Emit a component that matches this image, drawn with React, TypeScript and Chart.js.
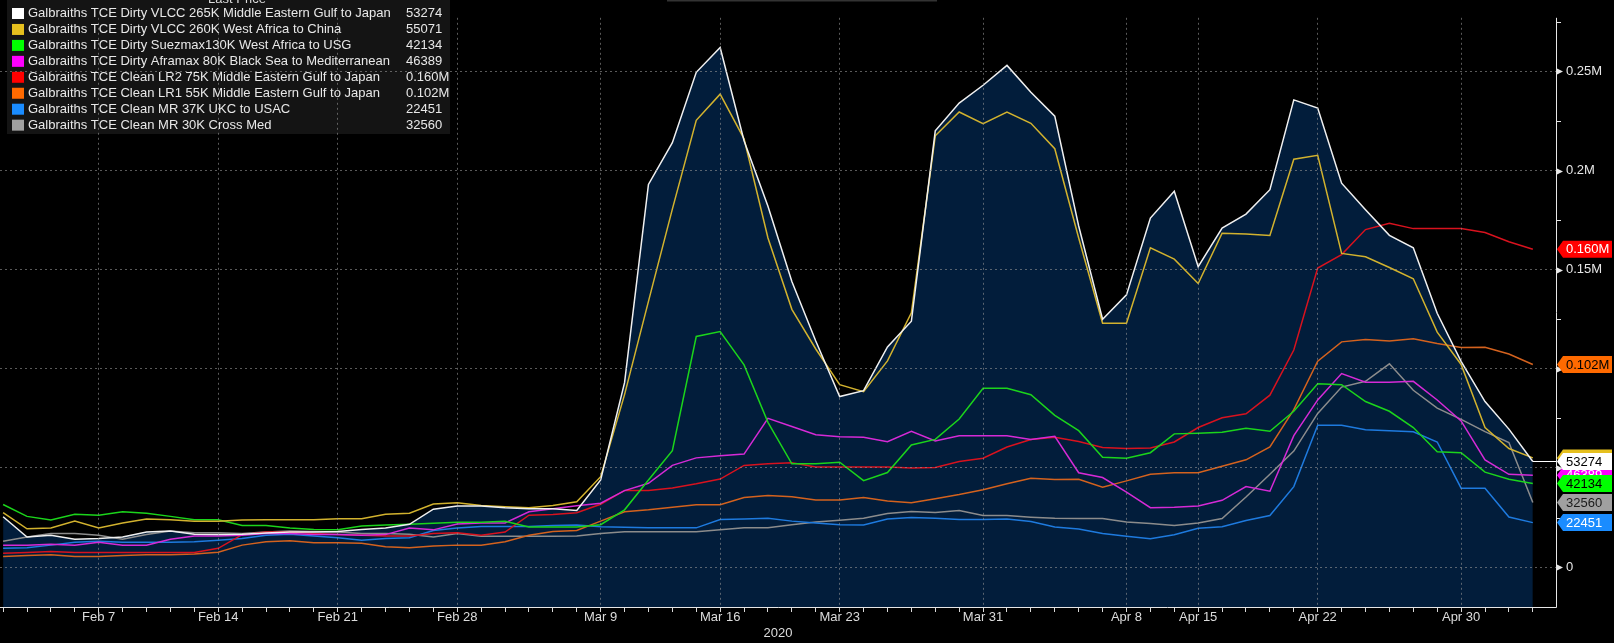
import { useEffect, useRef } from "react"
import { Chart, registerables } from "chart.js"

Chart.register(...registerables)

const FONT = "'Liberation Sans', Arial, sans-serif"
Chart.defaults.font.family = FONT

// trading days (UK calendar, Good Friday / Easter Monday skipped)
const dates = [
  "Feb 3", "Feb 4", "Feb 5", "Feb 6", "Feb 7", "Feb 10", "Feb 11", "Feb 12", "Feb 13", "Feb 14",
  "Feb 17", "Feb 18", "Feb 19", "Feb 20", "Feb 21", "Feb 24", "Feb 25", "Feb 26", "Feb 27", "Feb 28",
  "Mar 2", "Mar 3", "Mar 4", "Mar 5", "Mar 6", "Mar 9", "Mar 10", "Mar 11", "Mar 12", "Mar 13",
  "Mar 16", "Mar 17", "Mar 18", "Mar 19", "Mar 20", "Mar 23", "Mar 24", "Mar 25", "Mar 26", "Mar 27",
  "Mar 30", "Mar 31", "Apr 1", "Apr 2", "Apr 3", "Apr 6", "Apr 7", "Apr 8", "Apr 9", "Apr 14",
  "Apr 15", "Apr 16", "Apr 17", "Apr 20", "Apr 21", "Apr 22", "Apr 23", "Apr 24", "Apr 27", "Apr 28",
  "Apr 29", "Apr 30", "May 1", "May 4", "May 5",
]

const tickLabels = [
  "Feb 7", "Feb 14", "Feb 21", "Feb 28", "Mar 9", "Mar 16",
  "Mar 23", "Mar 31", "Apr 8", "Apr 15", "Apr 22", "Apr 30",
]

const yTicks = [0, 25000, 50000, 75000, 100000, 125000, 150000, 175000, 200000, 225000, 250000, 275000]

const seriesNames = [
  "Galbraiths TCE Dirty VLCC 265K Middle Eastern Gulf to Japan",
  "Galbraiths TCE Dirty VLCC 260K West Africa to China",
  "Galbraiths TCE Dirty Suezmax130K West Africa to USG",
  "Galbraiths TCE Dirty Aframax 80K Black Sea to Mediterranean",
  "Galbraiths TCE Clean LR2 75K Middle Eastern Gulf to Japan",
  "Galbraiths TCE Clean LR1 55K Middle Eastern Gulf to Japan",
  "Galbraiths TCE Clean MR 37K UKC to USAC",
  "Galbraiths TCE Clean MR 30K Cross Med",
]

const lastPrices = ["53274", "55071", "42134", "46389", "0.160M", "0.102M", "22451", "32560"]

const vlccMegJapan = [
  25400, 15200, 16100, 14100, 14400, 15200, 17700, 18200, 16600, 16400,
  16600, 17200, 17700, 17700, 18000, 19000, 19700, 21600, 29200, 30800,
  30800, 30000, 29500, 29500, 28600, 44000, 93000, 193000, 214000, 249500,
  262000, 215000, 182000, 144000, 114000, 86000, 89000, 111000, 124000, 220000,
  234000, 243000, 253000, 239500, 227400, 172000, 125000, 137300, 176000, 189500,
  151500, 171000, 178000, 190300, 235600, 231500, 193600, 180200, 167300, 161000,
  128000, 103800, 83500, 69600, 53274,
]

const vlccWafChina = [
  27500, 19300, 19700, 23300, 19800, 22300, 24300, 23900, 23100, 23100,
  23800, 23900, 23900, 23900, 24400, 24400, 26700, 27200, 31800, 32500,
  31100, 30500, 30000, 31100, 33000, 45600, 87000, 134000, 180500, 225300,
  238500, 216000, 166000, 130000, 110000, 92000, 88500, 104000, 128200, 217500,
  229500, 223600, 229500, 223800, 211000, 166000, 123000, 123000, 161000, 155300,
  143000, 168400, 168000, 167200, 205700, 207700, 158200, 156500, 151100, 145400,
  118500, 102200, 70400, 59800, 55071,
]

const suezmaxWafUsg = [
  31600, 25600, 23800, 26700, 26200, 27900, 27200, 25600, 23900, 23900,
  21000, 21000, 19700, 19000, 18800, 20700, 21300, 21600, 22100, 22600,
  22600, 23100, 20200, 20200, 20300, 21400, 28900, 43900, 58700, 116300,
  118800, 102000, 73000, 52100, 52100, 52900, 43600, 47700, 61600, 64400,
  74700, 90200, 90200, 86900, 76500, 68800, 55400, 54900, 57700, 67200,
  67500, 68000, 70000, 68500, 78600, 92500, 92000, 83500, 78600, 70400,
  58200, 57700, 47900, 44300, 42134,
]

const aframaxBsMed = [
  11100, 11100, 11500, 11100, 12500, 11100, 11100, 14100, 15700, 15700,
  16100, 16900, 16900, 16400, 16400, 16100, 16400, 19700, 18800, 21800,
  22300, 22300, 27900, 29500, 31000, 32200, 38600, 42300, 51300, 55100,
  56200, 57000, 75000, 70900, 66800, 65700, 65500, 63200, 68500, 63600,
  66300, 66300, 66300, 64400, 66000, 47600, 45200, 37800, 30000, 30200,
  30800, 33700, 40600, 38300, 66300, 84300, 97600, 93200, 93200, 93700,
  84300, 73700, 54100, 46800, 46389,
]

const lr2MegJapan = [
  7000, 7400, 7900, 7400, 7400, 7400, 7400, 7400, 7400, 9500,
  16400, 17700, 17700, 16900, 16400, 16100, 15700, 15700, 16900, 17400,
  16100, 17700, 26200, 26600, 27400, 31700, 38700, 38700, 39900, 42000,
  44400, 51300, 52100, 52600, 50500, 50500, 50500, 50500, 50000, 50200,
  53300, 54900, 60600, 64400, 65500, 63400, 60300, 59800, 60100, 63100,
  70400, 75300, 77300, 86700, 109500, 150800, 157600, 170200, 173400, 170700,
  170700, 170700, 168700, 164100, 160300,
]

const lr1MegJapan = [
  5400, 5900, 6200, 5400, 5400, 5900, 6200, 6200, 6600, 7500,
  11100, 12800, 13300, 12300, 12300, 12000, 10300, 9800, 10700, 11100,
  11100, 12800, 16100, 18000, 18500, 23200, 27900, 28900, 30200, 31400,
  31500, 35100, 36100, 35500, 33800, 33800, 35100, 33300, 32500, 34500,
  36600, 39000, 42000, 44800, 44200, 44300, 40300, 43500, 46800, 47600,
  47600, 50900, 54100, 60600, 79400, 103800, 113600, 114800, 114000, 115200,
  112800, 110700, 110900, 107500, 102200,
]

const mrUkcUsac = [
  9500, 9800, 11100, 12500, 13100, 12500, 12500, 12500, 12800, 13600,
  14400, 16100, 16600, 15700, 14800, 13600, 14400, 14800, 18500, 19700,
  20500, 20500, 20500, 21000, 21300, 20400, 20100, 19900, 19900, 19800,
  24000, 24300, 24700, 23200, 22200, 21400, 21200, 24300, 25000, 24700,
  24000, 24000, 24300, 23000, 20200, 19200, 17000, 15600, 14300, 16300,
  19600, 20400, 23500, 26000, 40600, 71600, 71600, 69300, 68800, 68300,
  63100, 39800, 39800, 25300, 22451,
]

const mrCrossMed = [
  13100, 15200, 16900, 16900, 16100, 14100, 16400, 18200, 17400, 17400,
  16900, 17700, 18200, 18000, 17700, 16900, 16900, 16600, 15200, 16900,
  15600, 15600, 15600, 15600, 15700, 17000, 17800, 17800, 17800, 17800,
  18800, 19900, 19900, 21400, 22700, 23700, 24700, 27100, 28100, 27600,
  28600, 26000, 26000, 25200, 24600, 24500, 24500, 22800, 22000, 21000,
  22300, 24500, 35400, 46800, 58500, 77500, 90800, 93700, 102500, 89200,
  80200, 74500, 68300, 62800, 32560,
]

const series = [
  vlccMegJapan, vlccWafChina, suezmaxWafUsg, aframaxBsMed,
  lr2MegJapan, lr1MegJapan, mrUkcUsac, mrCrossMed,
]

const lineColors = ["#f0f0f0", "#d2b22e", "#1bd41b", "#d62ad6", "#d8121e", "#d4621e", "#1e7ade", "#8c8c8c"]
const swatchColors = ["#ffffff", "#e6c01e", "#00ff00", "#ff00ff", "#ff0000", "#ff6a00", "#1a8cff", "#a0a0a0"]
const tagText = ["#000000", "#000000", "#000000", "#ffffff", "#ffffff", "#000000", "#ffffff", "#1a1a1a"]
const GRID = "rgba(150,150,150,0.6)"
const AXIS = "#e6e6e6"

const overlay = {
  id: "bbgOverlay",
  afterDatasetsDraw(chart: any) {
    const ctx = chart.ctx
    ctx.save()
    ctx.fillStyle = "rgba(22,22,22,0.92)"
    ctx.fillRect(7, 0, 443, 134)
    ctx.restore()
  },
  afterDraw(chart: any) {
    const ctx = chart.ctx
    const area = chart.chartArea
    const xs = chart.scales.x
    const ys = chart.scales.y
    ctx.save()

    ctx.fillStyle = "#333"
    ctx.fillRect(667, 0, 270, 1.5)

    // solid axis lines
    ctx.strokeStyle = AXIS
    ctx.lineWidth = 1
    ctx.beginPath()
    ctx.moveTo(area.left, area.bottom + 0.5)
    ctx.lineTo(area.right + 0.5, area.bottom + 0.5)
    ctx.moveTo(area.right + 0.5, area.top)
    ctx.lineTo(area.right + 0.5, area.bottom + 0.5)
    ctx.stroke()

    // legend
    ctx.font = `13px ${FONT}`
    ctx.fillStyle = "#dcdcdc"
    ctx.textAlign = "center"
    ctx.textBaseline = "alphabetic"
    ctx.fillText("Last Price", 237, 3)
    ctx.textAlign = "left"
    ctx.textBaseline = "middle"
    seriesNames.forEach((name, i) => {
      const cy = 13.5 + i * 15.95
      ctx.fillStyle = swatchColors[i]
      ctx.fillRect(12, cy - 5.5, 12, 11)
      ctx.fillStyle = "#e8e8e8"
      ctx.fillText(name, 28, cy)
      ctx.fillText(lastPrices[i], 406, cy)
    })

    // right axis pointers and minor ticks
    ctx.fillStyle = AXIS
    ctx.strokeStyle = AXIS
    yTicks.forEach((v) => {
      const py = Math.round(ys.getPixelForValue(v)) + 0.5
      if (v % 50000 === 0) {
        ctx.beginPath()
        ctx.moveTo(area.right, py - 3.5)
        ctx.lineTo(area.right + 7, py)
        ctx.lineTo(area.right, py + 3.5)
        ctx.closePath()
        ctx.fill()
      } else {
        ctx.beginPath()
        ctx.moveTo(area.right, py)
        ctx.lineTo(area.right + 5, py)
        ctx.stroke()
      }
    })

    // last price line of the first series
    const lastIdx = vlccMegJapan.length - 1
    const ly = Math.round(ys.getPixelForValue(vlccMegJapan[lastIdx])) + 0.5
    ctx.strokeStyle = "#ffffff"
    ctx.beginPath()
    ctx.moveTo(xs.getPixelForValue(lastIdx), ly)
    ctx.lineTo(area.right, ly)
    ctx.stroke()

    // last value tags
    ctx.font = `13px ${FONT}`
    for (let i = series.length - 1; i >= 0; i--) {
      const s = series[i]
      const cy = ys.getPixelForValue(s[s.length - 1])
      const left = area.right + 1
      ctx.fillStyle = swatchColors[i]
      ctx.beginPath()
      ctx.moveTo(left, cy)
      ctx.lineTo(left + 6, cy - 8.5)
      ctx.lineTo(1612, cy - 8.5)
      ctx.lineTo(1612, cy + 8.5)
      ctx.lineTo(left + 6, cy + 8.5)
      ctx.closePath()
      ctx.fill()
      ctx.fillStyle = tagText[i]
      ctx.fillText(lastPrices[i], left + 9, cy + 0.5)
    }
    ctx.restore()
  },
}

export default function App() {
  const chartRef = useRef<HTMLCanvasElement>(null)
  const chartInstance = useRef<Chart | null>(null)

  useEffect(() => {
    if (!chartRef.current) return
    document.body.style.margin = "0"
    document.body.style.background = "#000"

    if (chartInstance.current) {
      chartInstance.current.destroy()
    }

    const datasets = series.map((s, i) => ({
      label: seriesNames[i],
      data: s.map((v, j) => ({ x: j, y: v })),
      borderColor: lineColors[i],
      backgroundColor: i === 0 ? "#021d3b" : lineColors[i],
      borderWidth: 1.5,
      pointRadius: 0,
      tension: 0,
      fill: i === 0 ? "start" : false,
    }))

    chartInstance.current = new Chart(chartRef.current, {
      type: "line",
      data: { datasets: datasets as any },
      plugins: [overlay],
      options: {
        responsive: true,
        maintainAspectRatio: false,
        animation: false,
        events: [],
        layout: { padding: 0, autoPadding: false },
        plugins: {
          legend: { display: false },
          tooltip: { enabled: false },
          filler: { drawTime: "beforeDatasetsDraw" } as any,
        },
        scales: {
          x: {
            type: "linear",
            min: -0.13,
            max: 64.97,
            afterBuildTicks: (scale: any) => {
              scale.ticks = dates.map((_, i) => ({ value: i }))
            },
            afterFit: (scale: any) => {
              scale.height = 36
            },
            grid: {
              z: 1,
              color: (c: any) =>
                c.tick && tickLabels.includes(dates[c.tick.value]) ? GRID : "transparent",
              lineWidth: 1,
              drawTicks: true,
              tickLength: 5,
              tickColor: "#d8d8d8",
              tickWidth: 1,
              tickBorderDash: [],
            } as any,
            border: { display: false, dash: [2, 3] } as any,
            ticks: {
              autoSkip: false,
              maxRotation: 0,
              padding: -2,
              color: "#dcdcdc",
              font: { size: 13 },
              callback: (v: any) => (tickLabels.includes(dates[v]) ? dates[v] : ""),
            },
            title: {
              display: true,
              text: "2020",
              color: "#dcdcdc",
              font: { size: 13 },
              padding: { top: 0, bottom: 2 },
            },
          },
          y: {
            position: "right",
            min: -20100,
            max: 277000,
            afterBuildTicks: (scale: any) => {
              scale.ticks = yTicks.map((v) => ({ value: v }))
            },
            afterFit: (scale: any) => {
              scale.width = 58
            },
            grid: {
              z: 1,
              color: (c: any) => (c.tick && c.tick.value % 50000 === 0 ? GRID : "transparent"),
              drawTicks: false,
            } as any,
            border: { display: false, dash: [2, 3] } as any,
            ticks: {
              padding: 10,
              color: AXIS,
              font: { size: 13 },
              callback: (v: any) => {
                const n = Number(v)
                if (n % 50000 !== 0) return ""
                if (n === 0) return "0"
                if (n < 100000) return "50000"
                return `${n / 1e6}M`
              },
            },
          },
        },
      },
    })

    return () => {
      if (chartInstance.current) {
        chartInstance.current.destroy()
        chartInstance.current = null
      }
    }
  }, [])

  return (
    <div style={{ position: "fixed", left: 0, top: 0, width: 1614, height: 643, background: "#000" }}>
      <canvas ref={chartRef} />
    </div>
  )
}
